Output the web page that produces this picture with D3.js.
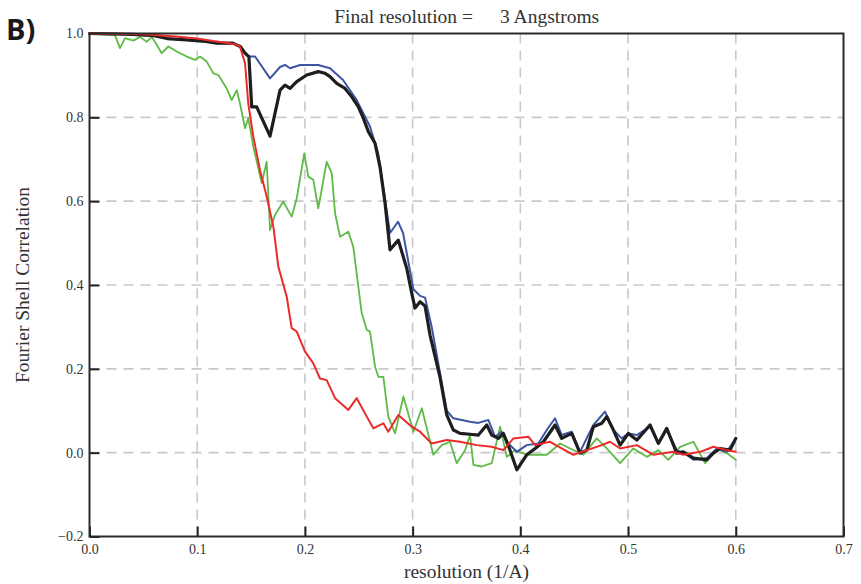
<!DOCTYPE html>
<html>
<head>
<meta charset="utf-8">
<script src="https://cdn.jsdelivr.net/npm/d3@7"></script>
<style>
  html, body { margin: 0; padding: 0; background: #fff; }
  svg { display: block; }
  svg text.serif, svg .tick text { font-family: "Liberation Serif", "DejaVu Serif", serif; }
</style>
</head>
<body>
<svg id="chart" width="861" height="584"></svg>
<script>
// Axis ticks
const xTicks = [0.0, 0.1, 0.2, 0.3, 0.4, 0.5, 0.6, 0.7];
const yTicks = [-0.2, 0.0, 0.2, 0.4, 0.6, 0.8, 1.0];

// FSC curves: spatial frequency (1/A) and correlation
const blueRes = [0.000,0.040,0.060,0.072,0.090,0.108,0.118,0.133,0.140,0.1444,0.149,0.1537,0.1676,0.1769,0.1815,0.1862,0.1955,0.2124,0.2233,0.2354,0.2481,0.2604,0.2679,0.2725,0.2790,0.2864,0.2911,0.2957,0.3007,0.3069,0.3115,0.3177,0.3254,0.3317,0.3378,0.3533,0.3610,0.3703,0.3765,0.3827,0.3889,0.3967,0.4059,0.4167,0.4245,0.4322,0.4384,0.4477,0.4554,0.4631,0.4678,0.4786,0.4864,0.4941,0.5003,0.5081,0.5204,0.5281,0.5359,0.5452,0.5545,0.5607,0.5731,0.5824,0.5916,0.600];
const blueFsc = [1.000,0.998,0.995,0.988,0.985,0.981,0.977,0.977,0.969,0.953,0.945,0.945,0.893,0.920,0.925,0.917,0.925,0.925,0.917,0.889,0.841,0.778,0.715,0.635,0.524,0.551,0.524,0.460,0.390,0.374,0.370,0.300,0.190,0.100,0.082,0.074,0.071,0.078,0.038,0.050,0.022,0.002,0.018,0.022,0.054,0.082,0.042,0.050,0.002,0.042,0.066,0.098,0.054,0.034,0.046,0.042,0.062,0.022,0.054,0.006,-0.005,-0.017,-0.013,0.010,0.002,0.034];

const blackRes = [0.000,0.040,0.060,0.072,0.090,0.108,0.118,0.133,0.140,0.1444,0.148,0.1506,0.1552,0.1676,0.1769,0.1815,0.1862,0.1924,0.2017,0.2124,0.2187,0.2233,0.2295,0.2372,0.2435,0.2496,0.2542,0.2589,0.2651,0.2697,0.2744,0.2790,0.2867,0.2945,0.2992,0.3022,0.3069,0.3115,0.3162,0.3254,0.3317,0.3378,0.3440,0.3533,0.3610,0.3688,0.3734,0.3796,0.3842,0.3904,0.3967,0.4059,0.4137,0.4214,0.4322,0.4384,0.4477,0.4554,0.4617,0.4678,0.4756,0.4802,0.4864,0.4926,0.5003,0.5081,0.5204,0.5281,0.5359,0.5452,0.5513,0.5607,0.5731,0.5792,0.5854,0.5947,0.600];
const blackFsc = [1.000,0.998,0.995,0.988,0.985,0.981,0.977,0.977,0.969,0.953,0.944,0.825,0.825,0.755,0.865,0.877,0.869,0.885,0.901,0.909,0.905,0.897,0.881,0.869,0.849,0.825,0.798,0.766,0.738,0.682,0.595,0.484,0.507,0.440,0.380,0.345,0.360,0.350,0.280,0.180,0.090,0.054,0.046,0.044,0.042,0.066,0.042,0.034,0.046,0.006,-0.041,-0.005,0.010,0.026,0.066,0.034,0.046,-0.001,0.006,0.062,0.070,0.086,0.054,0.018,0.046,0.030,0.066,0.022,0.058,-0.001,0.002,-0.013,-0.017,-0.001,0.010,0.006,0.034];

const redRes = [0.000,0.050,0.080,0.100,0.115,0.130,0.137,0.1397,0.1444,0.1474,0.1521,0.1583,0.1645,0.1707,0.1753,0.1831,0.1877,0.1924,0.2001,0.2078,0.2140,0.2202,0.2280,0.2403,0.2481,0.2574,0.2635,0.2728,0.2774,0.2867,0.2992,0.3069,0.3177,0.3317,0.3440,0.3595,0.3734,0.3842,0.3935,0.4074,0.4137,0.4276,0.4492,0.4756,0.4833,0.4926,0.5081,0.5235,0.5421,0.5513,0.5669,0.5792,0.5916,0.600];
const redFsc = [1.000,0.998,0.993,0.988,0.982,0.977,0.973,0.969,0.929,0.833,0.754,0.674,0.611,0.539,0.444,0.372,0.297,0.289,0.241,0.213,0.177,0.173,0.130,0.102,0.130,0.086,0.058,0.070,0.050,0.090,0.062,0.050,0.022,0.030,0.026,0.018,0.014,0.006,0.034,0.038,0.018,0.026,-0.005,0.018,0.026,0.010,0.018,-0.005,0.002,-0.005,0.002,0.014,0.006,0.002];

const greenRes = [0.000,0.0237,0.0283,0.0330,0.0407,0.0469,0.0531,0.0578,0.0624,0.0670,0.0732,0.0810,0.0903,0.0980,0.1026,0.1088,0.1150,0.1196,0.1274,0.1320,0.1367,0.1397,0.1444,0.1474,0.1521,0.1599,0.1645,0.1676,0.1722,0.1799,0.1877,0.1924,0.1994,0.2032,0.2078,0.2124,0.2202,0.2249,0.2280,0.2326,0.2403,0.2449,0.2527,0.2574,0.2604,0.2651,0.2682,0.2728,0.2774,0.2837,0.2914,0.3007,0.3085,0.3192,0.3270,0.3347,0.3409,0.3487,0.3533,0.3564,0.3641,0.3734,0.3812,0.3874,0.3951,0.4059,0.4245,0.4369,0.4462,0.4585,0.4709,0.4802,0.4926,0.5049,0.5174,0.5281,0.5374,0.5483,0.5607,0.5715,0.5824,0.5916,0.600];
const greenFsc = [1.000,0.996,0.965,0.989,0.983,0.992,0.980,0.992,0.973,0.953,0.969,0.957,0.945,0.937,0.945,0.933,0.905,0.901,0.869,0.841,0.865,0.833,0.774,0.798,0.730,0.643,0.694,0.531,0.567,0.599,0.563,0.607,0.714,0.658,0.651,0.583,0.694,0.667,0.571,0.515,0.527,0.491,0.333,0.293,0.289,0.205,0.181,0.181,0.086,0.046,0.134,0.050,0.106,-0.005,0.018,0.026,-0.025,0.006,0.042,-0.029,-0.033,-0.025,0.062,-0.010,0.006,-0.005,-0.005,0.022,0.010,-0.005,0.034,0.010,-0.025,0.010,-0.010,0.006,-0.017,0.014,0.026,-0.025,0.010,-0.001,-0.017];

const series = [
  { res: greenRes, fsc: greenFsc, color: "#5fba46", width: 1.8 },
  { res: blueRes,  fsc: blueFsc,  color: "#3c55a5", width: 2.0 },
  { res: blackRes, fsc: blackFsc, color: "#1e1e1e", width: 3.2 },
  { res: redRes,   fsc: redFsc,   color: "#ec2a2a", width: 2.0 }
];

const svg = d3.select("#chart");
const plotL = 89.5, plotR = 843.5, plotT = 33.5, plotB = 536.5;

const x = d3.scaleLinear().domain([0, 0.7]).range([plotL, plotR]);
const y = d3.scaleLinear().domain([-0.2, 1.0]).range([plotB, plotT]);

// dashed grid
const grid = svg.append("g").attr("stroke", "#c9c9c9").attr("stroke-width", 1.6)
  .attr("stroke-dasharray", "10,7").attr("fill", "none");
grid.selectAll("line.v").data(xTicks.filter(d => d > 0 && d < 0.7)).join("line")
  .attr("class", "v")
  .attr("x1", d => x(d)).attr("x2", d => x(d))
  .attr("y1", plotT).attr("y2", plotB);
grid.selectAll("line.h").data(yTicks.filter(d => d > -0.2 && d < 1.0)).join("line")
  .attr("class", "h")
  .attr("x1", plotL).attr("x2", plotR)
  .attr("y1", d => y(d)).attr("y2", d => y(d));

// axes with inward ticks
const fmt = d3.format(".1f");
const xAxis = svg.append("g").attr("transform", `translate(0,${plotB})`)
  .call(d3.axisBottom(x).tickValues(xTicks).tickFormat(fmt).tickSizeInner(-10).tickSizeOuter(0).tickPadding(8));
const yAxis = svg.append("g").attr("transform", `translate(${plotL},0)`)
  .call(d3.axisLeft(y).tickValues(yTicks).tickFormat(fmt).tickSizeInner(-10).tickSizeOuter(0).tickPadding(6));
[xAxis, yAxis].forEach(g => {
  g.attr("font-family", null).attr("font-size", null);
  g.select(".domain").remove();
  g.selectAll(".tick line").attr("stroke", "#222").attr("stroke-width", 2);
  g.selectAll(".tick text").attr("fill", "#333").attr("font-size", 14);
});

// curves
const line = d3.line().x(d => x(d[0])).y(d => y(d[1]));
const curves = svg.append("g").attr("fill", "none").attr("stroke-linejoin", "round").attr("stroke-linecap", "round");
series.forEach(s => {
  curves.append("path")
    .datum(s.res.map((r, i) => [r, s.fsc[i]]))
    .attr("d", line)
    .attr("stroke", s.color)
    .attr("stroke-width", s.width);
});

// frame
svg.append("rect")
  .attr("x", plotL).attr("y", plotT)
  .attr("width", plotR - plotL).attr("height", plotB - plotT)
  .attr("fill", "none").attr("stroke", "#2a2a2a").attr("stroke-width", 2);

// titles
svg.append("text").attr("class", "serif").attr("x", 473).attr("y", 23).attr("text-anchor", "end")
  .attr("font-size", 19.5).attr("fill", "#333")
  .text("Final resolution =");
svg.append("text").attr("class", "serif").attr("x", 500).attr("y", 23).attr("text-anchor", "start")
  .attr("font-size", 19.5).attr("fill", "#333")
  .text("3 Angstroms");

svg.append("text").attr("class", "serif").attr("x", (plotL + plotR) / 2).attr("y", 578).attr("text-anchor", "middle")
  .attr("font-size", 19.5).attr("fill", "#333")
  .text("resolution (1/A)");

svg.append("text").attr("class", "serif").attr("transform", `translate(29,${(plotT + plotB) / 2}) rotate(-90)`)
  .attr("text-anchor", "middle")
  .attr("font-size", 19.5).attr("fill", "#333")
  .text("Fourier Shell Correlation");

svg.append("text").attr("x", 6).attr("y", 40)
  .attr("font-family", "Open Sans, sans-serif").attr("font-weight", "bold").attr("font-size", 29)
  .attr("fill", "#1a1a1a")
  .text("B)");
</script>
</body>
</html>
